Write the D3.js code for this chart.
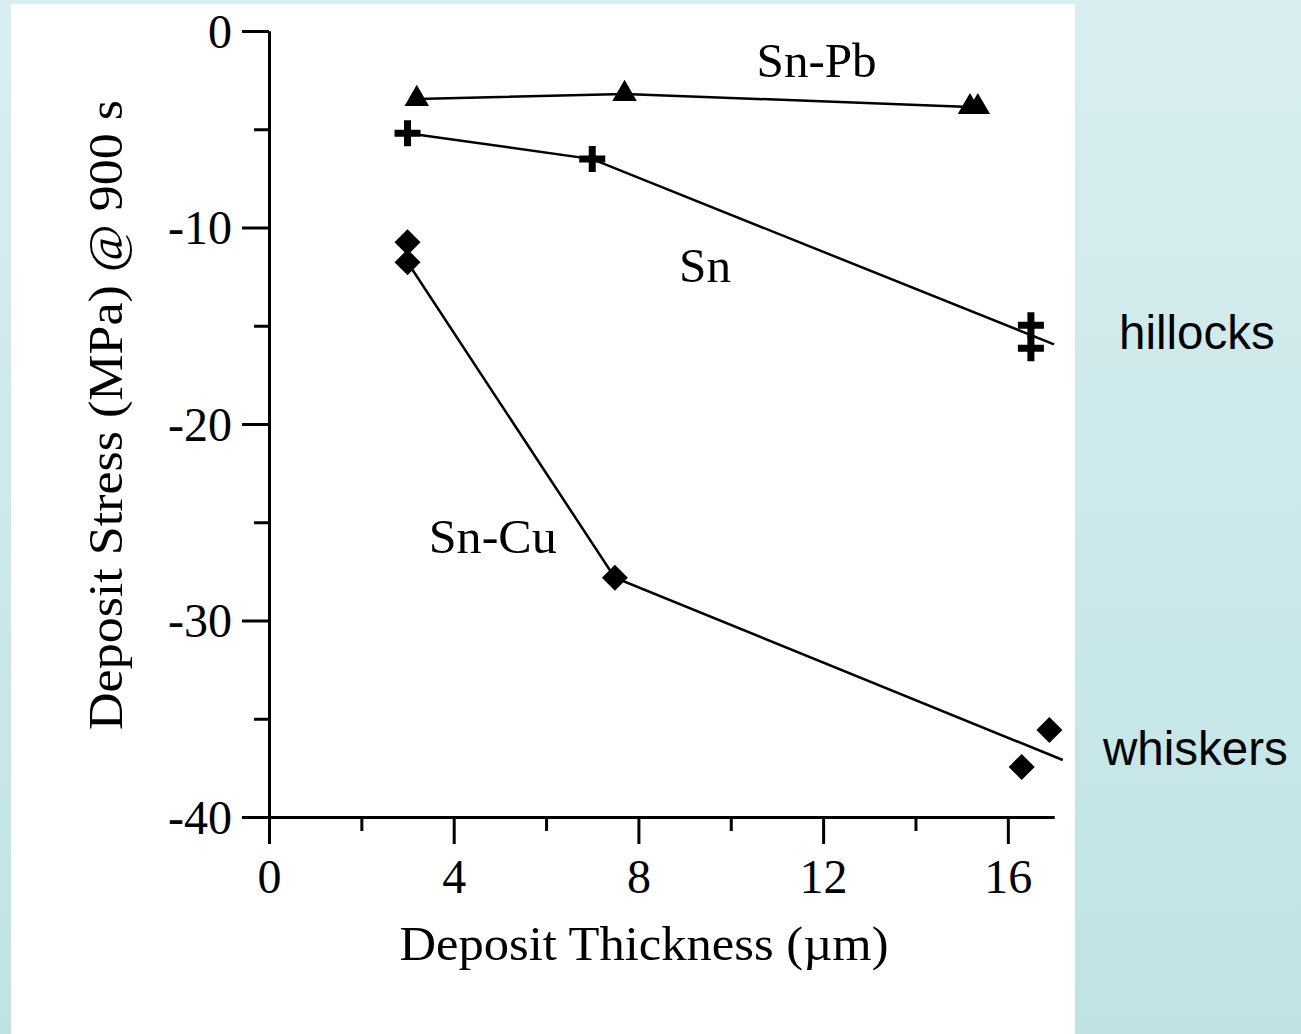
<!DOCTYPE html>
<html>
<head>
<meta charset="utf-8">
<script src="https://cdn.jsdelivr.net/npm/d3@7"></script>
<style>
  html, body { margin: 0; padding: 0; }
  body { width: 1301px; height: 1034px; overflow: hidden; }
  text { font-family: "Liberation Serif", "Times New Roman", serif; fill: #000; }
  .sans { font-family: "Liberation Sans", Arial, sans-serif; }
</style>
</head>
<body>
<div id="chart"></div>
<script>
// Sn-Pb series (triangles)
const snPbX = [3.2, 7.7, 15.18, 15.35];
const snPbY = [-3.46, -3.2, -3.87, -3.87];
// Sn series (crosses)
const snX = [3.0, 7.0, 16.5, 16.5];
const snY = [-5.2, -6.52, -14.98, -16.15];
const snLineX = [3.0, 7.0, 17.0];
const snLineY = [-5.2, -6.52, -15.95];
// Sn-Cu series (diamonds)
const snCuX = [3.0, 3.0, 7.49, 16.3, 16.9];
const snCuY = [-10.75, -11.77, -27.82, -37.45, -35.57];
const snCuLineX = [3.0, 7.49, 17.19];
const snCuLineY = [-11.77, -27.82, -37.1];

const xMajor = [0, 4, 8, 12, 16];
const xMinor = [2, 6, 10, 14];
const yMajor = [0, -10, -20, -30, -40];
const yMinor = [-5, -15, -25, -35];

const width = 1301, height = 1034;

const svg = d3.select("#chart").append("svg")
    .attr("width", width)
    .attr("height", height);

// background gradient + white panel
const grad = svg.append("defs").append("linearGradient")
    .attr("id", "bg").attr("x1", 0).attr("y1", 0).attr("x2", 0).attr("y2", 1);
grad.append("stop").attr("offset", "0%").attr("stop-color", "#d9eef0");
grad.append("stop").attr("offset", "100%").attr("stop-color", "#bfe3e5");
svg.append("rect").attr("width", width).attr("height", height).attr("fill", "url(#bg)");
svg.append("rect").attr("x", 11).attr("y", 4).attr("width", 1064).attr("height", 1030).attr("fill", "#fff");

// scales
const x = d3.scaleLinear().domain([0, 17]).range([269, 1054]);
const y = d3.scaleLinear().domain([0, -40]).range([31, 817]);

// axes
const yAxisG = svg.append("g").attr("transform", `translate(${x(0)},0)`);
yAxisG.call(d3.axisLeft(y).tickValues(yMajor).tickSize(27).tickSizeOuter(0).tickPadding(10).tickFormat(d => String(d)));
const yMinorG = svg.append("g").attr("transform", `translate(${x(0)},0)`);
yMinorG.call(d3.axisLeft(y).tickValues(yMinor).tickSize(15).tickSizeOuter(0).tickFormat(""));

const xAxisG = svg.append("g").attr("transform", `translate(0,${y(-40)})`);
xAxisG.call(d3.axisBottom(x).tickValues(xMajor).tickSize(27).tickSizeOuter(0).tickPadding(14).tickFormat(d => String(d)));
const xMinorG = svg.append("g").attr("transform", `translate(0,${y(-40)})`);
xMinorG.call(d3.axisBottom(x).tickValues(xMinor).tickSize(14).tickSizeOuter(0).tickFormat(""));

svg.selectAll(".domain").attr("stroke", "#000").attr("stroke-width", 3);
svg.selectAll(".tick line").attr("stroke", "#000").attr("stroke-width", 3);
svg.selectAll(".tick text")
    .style("font-family", '"Liberation Serif", "Times New Roman", serif')
    .style("font-size", "48px")
    .attr("fill", "#000");
yAxisG.selectAll(".tick text").attr("dy", "0.34em");
xAxisG.selectAll(".tick text").attr("dy", "0.72em");

// axis titles
svg.append("text")
    .attr("x", 644).attr("y", 960)
    .attr("text-anchor", "middle")
    .attr("textLength", 489).attr("lengthAdjust", "spacingAndGlyphs")
    .style("font-size", "48px")
    .text("Deposit Thickness (µm)");

svg.append("text")
    .attr("transform", "translate(122,415) rotate(-90)")
    .attr("text-anchor", "middle")
    .attr("textLength", 630).attr("lengthAdjust", "spacingAndGlyphs")
    .style("font-size", "48px")
    .text("Deposit Stress (MPa) @ 900 s");

// lines
const line = d3.line().x(d => x(d[0])).y(d => y(d[1]));
const lineStyle = sel => sel.attr("fill", "none").attr("stroke", "#000").attr("stroke-width", 2.5);

svg.append("path").datum(d3.zip(snPbX, snPbY)).attr("d", line).call(lineStyle);
svg.append("path").datum(d3.zip(snLineX, snLineY)).attr("d", line).call(lineStyle);
svg.append("path").datum(d3.zip(snCuLineX, snCuLineY)).attr("d", line).call(lineStyle);

// markers
svg.selectAll(".tri").data(d3.zip(snPbX, snPbY)).enter().append("path")
    .attr("d", d3.symbol(d3.symbolTriangle, 260))
    .attr("transform", d => `translate(${x(d[0])},${y(d[1])})`)
    .attr("fill", "#000");

const crossPath = "M-3.5,-13H3.5V-3.5H13V3.5H3.5V13H-3.5V3.5H-13V-3.5H-3.5Z";
svg.selectAll(".cross").data(d3.zip(snX, snY)).enter().append("path")
    .attr("d", crossPath)
    .attr("transform", d => `translate(${x(d[0])},${y(d[1])})`)
    .attr("fill", "#000");

svg.selectAll(".diamond").data(d3.zip(snCuX, snCuY)).enter().append("path")
    .attr("d", "M0,-13L13,0L0,13L-13,0Z")
    .attr("transform", d => `translate(${x(d[0])},${y(d[1])})`)
    .attr("fill", "#000");

// series labels
const labels = [
    { t: "Sn-Pb", x: 10.56, y: -2.34, w: 120 },
    { t: "Sn", x: 8.88, y: -12.75, w: 52 },
    { t: "Sn-Cu", x: 3.46, y: -26.55, w: 128 }
];
svg.selectAll(".lbl").data(labels).enter().append("text")
    .attr("x", d => x(d.x)).attr("y", d => y(d.y))
    .attr("textLength", d => d.w).attr("lengthAdjust", "spacingAndGlyphs")
    .style("font-size", "48px")
    .text(d => d.t);

// side notes
svg.append("text").attr("class", "sans")
    .attr("x", 1119).attr("y", 349)
    .style("font-size", "47.5px")
    .text("hillocks");
svg.append("text").attr("class", "sans")
    .attr("x", 1103).attr("y", 765)
    .style("font-size", "47.5px")
    .text("whiskers");
</script>
</body>
</html>
